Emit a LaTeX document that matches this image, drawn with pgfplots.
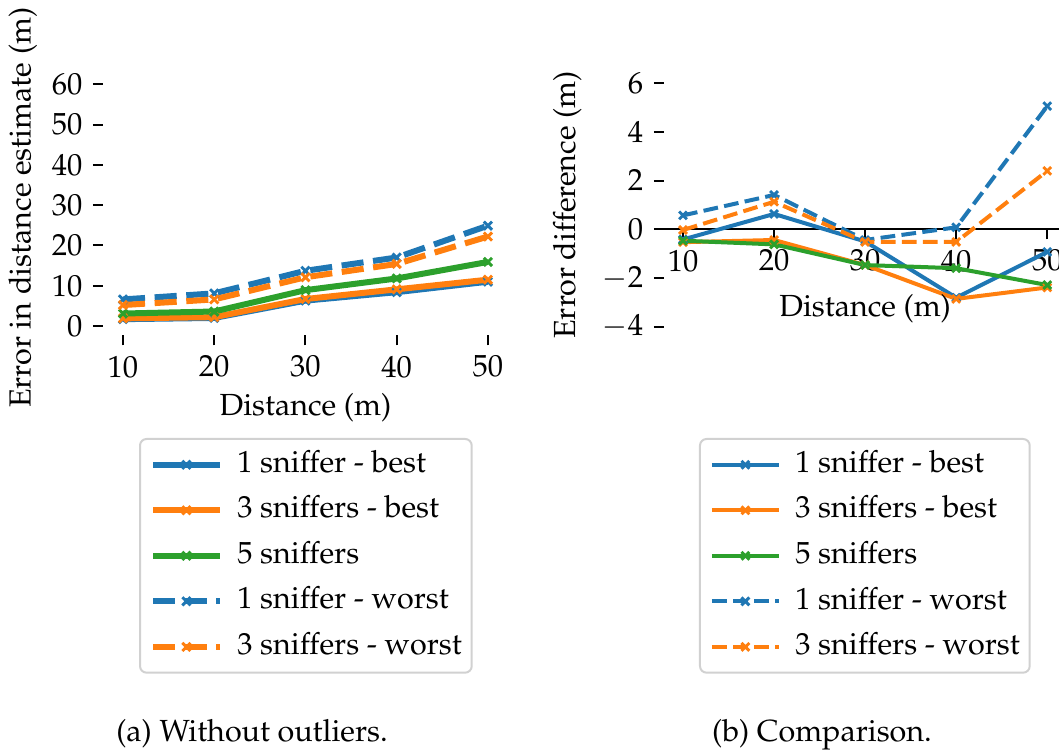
\documentclass[border=0pt]{standalone}
\usepackage[T1]{fontenc}
\usepackage{mathpazo}
\usepackage{pgfplots}
\pgfplotsset{compat=1.18}

\definecolor{tabblue}{HTML}{1F77B4}
\definecolor{taborange}{HTML}{FF7F0E}
\definecolor{tabgreen}{HTML}{2CA02C}

% shared look of both panels
\pgfplotsset{
  panel/.style={
    scale only axis,
    tick align=outside,
    major tick length=3.8pt,
    tick style={black, line width=0.76pt},
    xtick={10,20,30,40,50},
    xlabel={Distance (m)},
    clip=false,
    legend cell align=left,
    legend style={
      draw=black!18, line width=0.76pt, rounded corners=2.5pt,
      fill=white, anchor=north west,
      inner xsep=3.8pt, inner ysep=4.6pt,
      row sep=6.9pt, column sep=5.4pt,
      nodes={inner sep=0pt, text height=8.1pt, text depth=2.3pt},
    },
    legend image code/.code={
      \draw[mark repeat=2,mark phase=2] plot coordinates {(0pt,0pt) (12.7pt,0pt) (25.5pt,0pt)};
    },
  },
}

\begin{document}
\begin{tikzpicture}
\fontsize{11.6}{14}\selectfont
\path[use as bounding box] (0pt,0pt) rectangle (402.42pt,286.14pt);

% (a) without outliers
\begin{axis}[
  panel,
  at={(39.14pt,158.73pt)}, anchor=south west,
  width=153.9pt, height=96.94pt,
  xmin=7.81, xmax=52.2, ymin=-2.3, ymax=61,
  ytick={0,10,20,30,40,50,60},
  axis x line*=bottom, axis y line*=left,
  axis line style={draw=none},
  ylabel={Error in distance estimate (m)},
  ylabel shift=-2.3pt, xlabel shift=-1.9pt,
  legend style={at={(axis description cs:0.0889,-0.4026)}},
  every axis plot/.append style={line width=2.28pt, mark=x, mark size=2.2pt,
    mark options={solid, line width=1.1pt}},
  dashsty/.style={dash pattern=on 8.4pt off 3.65pt},
]
\addplot[tabblue] coordinates {(10,1.7) (20,2.0) (30,6.3) (40,8.4) (50,11.0)};
\addlegendentry{1 sniffer - best}
\addplot[taborange] coordinates {(10,1.9) (20,2.2) (30,6.7) (40,9.1) (50,11.5)};
\addlegendentry{3 sniffers - best}
\addplot[tabgreen] coordinates {(10,3.1) (20,3.6) (30,8.9) (40,11.8) (50,15.9)};
\addlegendentry{5 sniffers}
\addplot[tabblue, dashsty] coordinates {(10,6.6) (20,8.1) (30,13.7) (40,17.0) (50,24.9)};
\addlegendentry{1 sniffer - worst}
\addplot[taborange, dashsty] coordinates {(10,5.2) (20,6.6) (30,12.1) (40,15.4) (50,22.2)};
\addlegendentry{3 sniffers - worst}
\end{axis}

% (b) comparison
\begin{axis}[
  panel,
  at={(252.28pt,158.31pt)}, anchor=south west,
  width=152.95pt, height=99.9pt,
  xmin=7.9, xmax=52.1, ymin=-4.4, ymax=6.4,
  ytick={-4,-2,0,2,4,6},
  axis x line*=middle, axis y line*=left,
  y axis line style={draw=none},
  x axis line style={black, line width=0.76pt, -, shorten <=-3.42pt},
  ylabel={Error difference (m)},
  xlabel shift=0.8pt,
  legend style={at={(axis description cs:0.0872,-0.3865)}},
  every axis plot/.append style={line width=1.52pt, mark=x, mark size=2.1pt,
    mark options={solid, line width=1.1pt}},
  dashsty/.style={dash pattern=on 5.6pt off 2.4pt},
]
\addplot[tabblue] coordinates {(10,-0.42) (20,0.63) (30,-0.5) (40,-2.81) (50,-0.93)};
\addlegendentry{1 sniffer - best}
\addplot[taborange] coordinates {(10,-0.53) (20,-0.44) (30,-1.47) (40,-2.86) (50,-2.39)};
\addlegendentry{3 sniffers - best}
\addplot[tabgreen] coordinates {(10,-0.47) (20,-0.62) (30,-1.47) (40,-1.6) (50,-2.29)};
\addlegendentry{5 sniffers}
\addplot[tabblue, dashsty] coordinates {(10,0.57) (20,1.41) (30,-0.44) (40,0.08) (50,5.06)};
\addlegendentry{1 sniffer - worst}
\addplot[taborange, dashsty] coordinates {(10,-0.03) (20,1.13) (30,-0.52) (40,-0.52) (50,2.4)};
\addlegendentry{3 sniffers - worst}
\end{axis}

\node[anchor=base] at (95.76pt,4.18pt) {(a) Without outliers.};
\node[anchor=base] at (312.36pt,4.18pt) {(b) Comparison.};
\end{tikzpicture}
\end{document}
